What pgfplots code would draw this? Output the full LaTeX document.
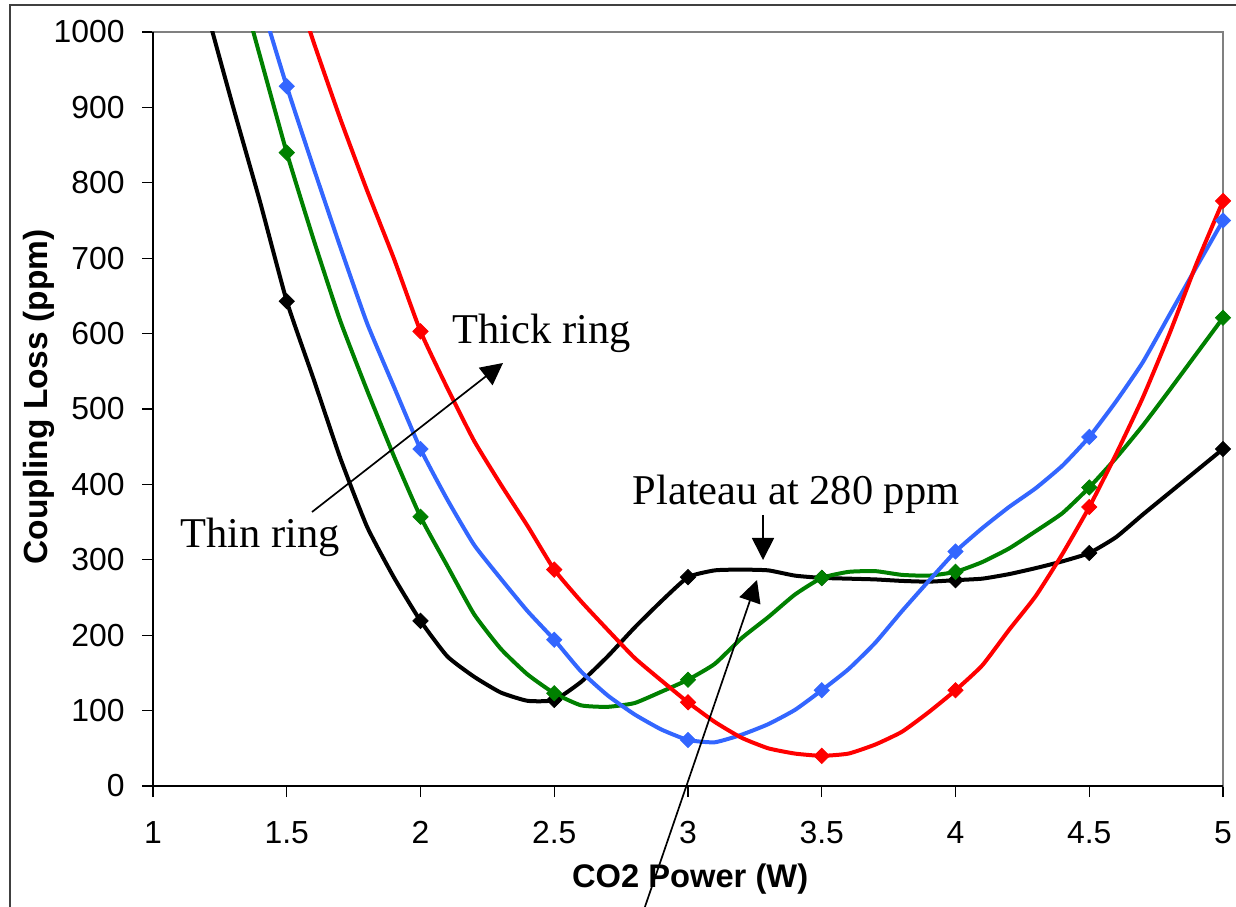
\documentclass[border=0pt]{standalone}
\usepackage{fontspec}
\setmainfont{Liberation Sans}
\newfontfamily\annfont{Liberation Serif}
\usepackage{pgfplots}
\usepackage{pgfplotstable}
\pgfplotsset{compat=1.18}
\usetikzlibrary{arrows.meta}

\definecolor{ringBlack}{RGB}{0,0,0}
\definecolor{ringGreen}{RGB}{0,128,0}
\definecolor{ringBlue}{RGB}{51,102,255}
\definecolor{ringRed}{RGB}{255,0,0}

% Coupling loss (ppm) vs CO2 power (W), sampled every 0.1 W; one column per ring
\pgfplotstableread{
P    thin  midA  midB  thick
1.0  1350  1450  1700  1700
1.1  1180  1320  1500  1580
1.2  1030  1200  1320  1460
1.3  900   1095  1170  1340
1.4  775   968   1045  1215
1.5  643   840   928   1095
1.6  540   725   820   987
1.7  435   617   715   885
1.8  344   525   614   790
1.9  277   438   530   700
2.0  219   357   447   603
2.1  172   292   380   528
2.2  145   228   320   458
2.3  124   182   275   400
2.4  113   148   232   345
2.5  114   123   194   287
2.6  138   107   152   245
2.7  172   105   120   207
2.8  210   110   95    170
2.9  245   125   75    140
3.0  277   141   61    111
3.1  286   162   58    85
3.2  287   196   68    64
3.3  286   224   82    50
3.4  279   254   101   43
3.5  276   276   127   40
3.6  275   284   155   43
3.7  274   285   190   55
3.8  272   280   232   72
3.9  271   279   272   98
4.0  273   284   311   127
4.1  275   297   342   160
4.2  281   315   370   207
4.3  289   338   395   252
4.4  298   362   425   308
4.5  309   396   463   370
4.6  330   435   510   440
4.7  360   478   562   515
4.8  389   525   625   600
4.9  418   573   688   692
5.0  447   621   750   776
}\losstable

% measured points (every 0.5 W) that carry the diamond markers
\pgfplotstableread{
P    thin  midA  midB  thick
1.5  643   840   928   nan
2.0  219   357   447   603
2.5  114   123   194   287
3.0  277   141   61    111
3.5  276   276   127   40
4.0  273   284   311   127
4.5  309   396   463   370
5.0  447   621   750   776
}\marktable

\begin{document}
\begin{tikzpicture}[x=1bp,y=1bp]
\useasboundingbox (0,0) rectangle (618,-453.5);
\clip (0,0) rectangle (618,-453.5);
% outer chart frame
\draw[line width=1bp, black!75] (5,-470) -- (5,-2.5) -- (630,-2.5);

\begin{axis}[
  at={(76.5bp,-393bp)}, anchor=south west,
  scale only axis, width=535bp, height=377bp,
  xmin=1, xmax=5, ymin=0, ymax=1000,
  clip mode=individual,
  axis line style={draw=black!50, line width=0.75bp},
  tick style={black, line width=0.6bp},
  major tick length=5.5bp,
  tick align=outside,
  xtick pos=bottom, ytick pos=left,
  xtick={1,1.5,2,2.5,3,3.5,4,4.5,5},
  xticklabels={1,1.5,2,2.5,3,3.5,4,4.5,5},
  ytick={0,100,...,1000},
  /pgf/number format/assume math mode=true,
  /pgf/number format/1000 sep={},
  ticklabel style={font=\fontsize{16}{16}\selectfont, inner sep=0pt},
  xticklabel style={anchor=north, yshift=-12bp},
  yticklabel style={anchor=east, xshift=-8.5bp},
  xlabel={CO2 Power (W)},
  ylabel={Coupling Loss (ppm)},
  xlabel style={at={(axis description cs:0.502,-0.134)}, anchor=base,
    font=\fontsize{16.4}{16}\selectfont\bfseries},
  ylabel style={at={(axis description cs:-0.099,0.516)}, anchor=base,
    font=\fontsize{16.8}{16}\selectfont\bfseries},
  lossline/.style={line width=2bp, no markers, smooth, tension=0.3},
  lossmark/.style={only marks, mark=square*, mark size=2.7pt,
    mark options={rotate=45, fill=#1, draw=#1}, color=#1},
]
\addplot[lossline, ringBlack] table[x=P, y=thin]  {\losstable};
\addplot[lossline, ringGreen] table[x=P, y=midA]  {\losstable};
\addplot[lossline, ringBlue]  table[x=P, y=midB]  {\losstable};
\addplot[lossline, ringRed]   table[x=P, y=thick] {\losstable};

\addplot[lossmark=ringBlack] table[x=P, y=thin]  {\marktable};
\addplot[lossmark=ringGreen] table[x=P, y=midA]  {\marktable};
\addplot[lossmark=ringBlue]  table[x=P, y=midB]  {\marktable};
\addplot[lossmark=ringRed]   table[x=P, y=thick] {\marktable};

% axis lines on the left and bottom are black, the rest of the frame grey
\draw[black, line width=0.75bp] (rel axis cs:0,1) -- (rel axis cs:0,0) -- (rel axis cs:1,0);
\end{axis}

% annotations
\tikzset{ann/.style={font=\annfont\fontsize{21.3}{22}\selectfont, inner sep=0pt, anchor=base},
         annarrow/.style={line width=0.85bp, -{Triangle[length=11bp, width=11bp]}}}
\node[ann] at (130,-274) {Thin ring};
\node[ann] at (270.75,-172) {Thick ring};
\node[ann] at (398,-252.5) {Plateau at 280 ppm};
\draw[annarrow] (156,-256) -- (251.5,-181.5);
\draw[annarrow] (381.5,-257.5) -- (381.5,-280);
\draw[annarrow] (318.5,-465) -- (378.5,-290);
\end{tikzpicture}
\end{document}
